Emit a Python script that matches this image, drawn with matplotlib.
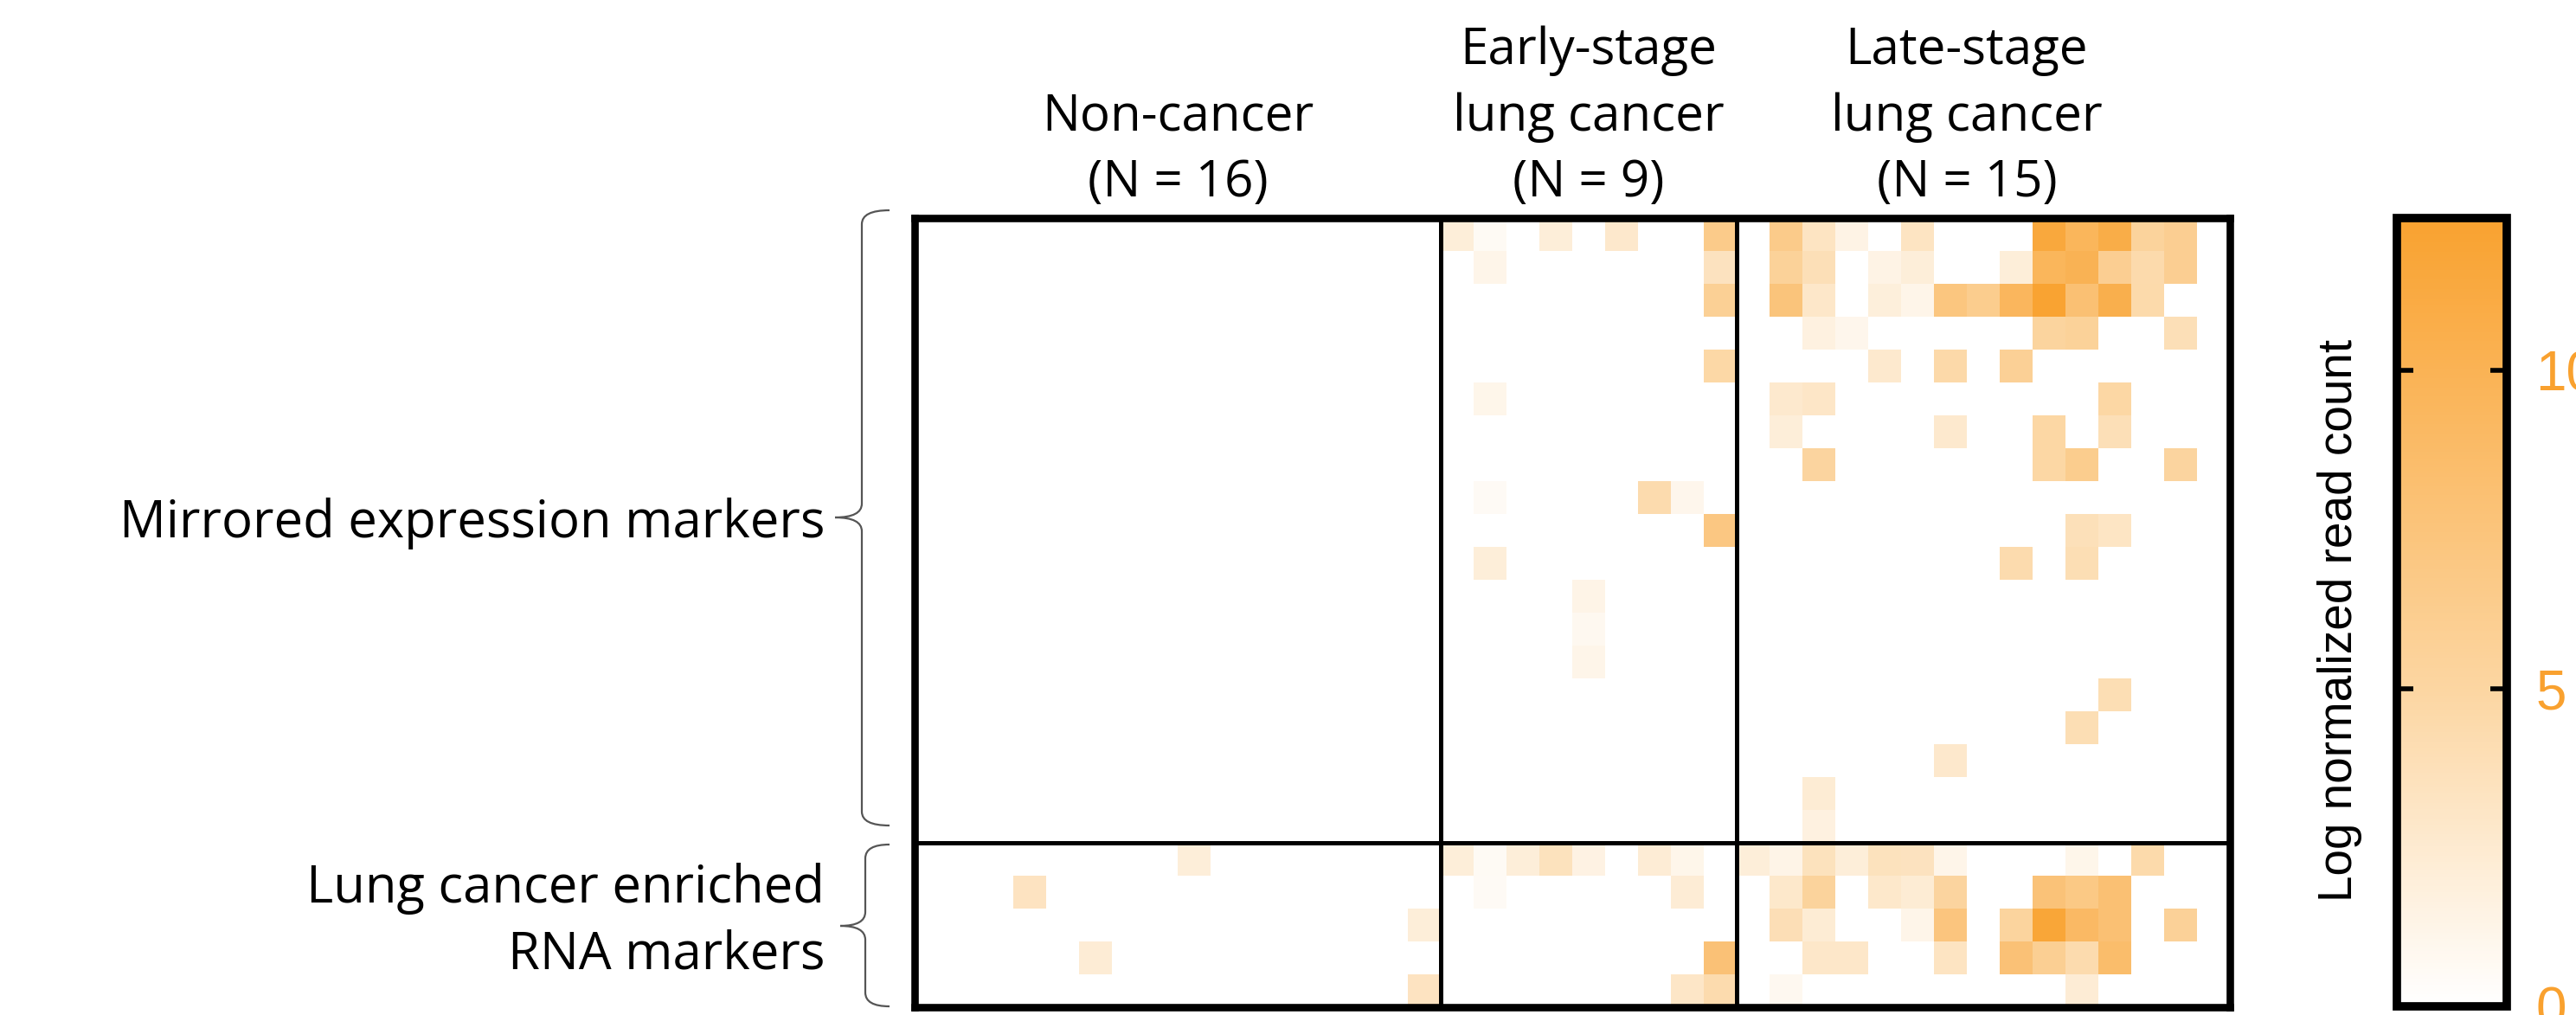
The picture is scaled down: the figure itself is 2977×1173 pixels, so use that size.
import numpy as np
import matplotlib
matplotlib.use("Agg")
import matplotlib.pyplot as plt
import matplotlib.transforms as mtransforms
from matplotlib.colors import LinearSegmentedColormap
from matplotlib.path import Path
from matplotlib.patches import PathPatch

plt.rcParams["font.family"] = ["Open Sans", "DejaVu Sans"]

# --- data -------------------------------------------------------------
group_labels = ["Non-cancer\n(N = 16)",
                "Early-stage\nlung cancer\n(N = 9)",
                "Late-stage\nlung cancer\n(N = 15)"]
group_sizes = [16, 9, 15]
marker_labels = ["Mirrored expression markers", "Lung cancer enriched\nRNA markers"]
marker_counts = [19, 5]
cbar_ticks = [0, 5, 10]
vmax = 12.4

# log normalized read counts, rows = markers (19 mirrored, then 5 lung enriched)
noncancer = [
    [0, 0, 0, 0, 0, 0, 0, 0, 0, 0, 0, 0, 0, 0, 0, 0],
    [0, 0, 0, 0, 0, 0, 0, 0, 0, 0, 0, 0, 0, 0, 0, 0],
    [0, 0, 0, 0, 0, 0, 0, 0, 0, 0, 0, 0, 0, 0, 0, 0],
    [0, 0, 0, 0, 0, 0, 0, 0, 0, 0, 0, 0, 0, 0, 0, 0],
    [0, 0, 0, 0, 0, 0, 0, 0, 0, 0, 0, 0, 0, 0, 0, 0],
    [0, 0, 0, 0, 0, 0, 0, 0, 0, 0, 0, 0, 0, 0, 0, 0],
    [0, 0, 0, 0, 0, 0, 0, 0, 0, 0, 0, 0, 0, 0, 0, 0],
    [0, 0, 0, 0, 0, 0, 0, 0, 0, 0, 0, 0, 0, 0, 0, 0],
    [0, 0, 0, 0, 0, 0, 0, 0, 0, 0, 0, 0, 0, 0, 0, 0],
    [0, 0, 0, 0, 0, 0, 0, 0, 0, 0, 0, 0, 0, 0, 0, 0],
    [0, 0, 0, 0, 0, 0, 0, 0, 0, 0, 0, 0, 0, 0, 0, 0],
    [0, 0, 0, 0, 0, 0, 0, 0, 0, 0, 0, 0, 0, 0, 0, 0],
    [0, 0, 0, 0, 0, 0, 0, 0, 0, 0, 0, 0, 0, 0, 0, 0],
    [0, 0, 0, 0, 0, 0, 0, 0, 0, 0, 0, 0, 0, 0, 0, 0],
    [0, 0, 0, 0, 0, 0, 0, 0, 0, 0, 0, 0, 0, 0, 0, 0],
    [0, 0, 0, 0, 0, 0, 0, 0, 0, 0, 0, 0, 0, 0, 0, 0],
    [0, 0, 0, 0, 0, 0, 0, 0, 0, 0, 0, 0, 0, 0, 0, 0],
    [0, 0, 0, 0, 0, 0, 0, 0, 0, 0, 0, 0, 0, 0, 0, 0],
    [0, 0, 0, 0, 0, 0, 0, 0, 0, 0, 0, 0, 0, 0, 0, 0],
    [0, 0, 0, 0, 0, 0, 0, 0, 2.0, 0, 0, 0, 0, 0, 0, 0],
    [0, 0, 0, 3.3, 0, 0, 0, 0, 0, 0, 0, 0, 0, 0, 0, 0],
    [0, 0, 0, 0, 0, 0, 0, 0, 0, 0, 0, 0, 0, 0, 0, 2.0],
    [0, 0, 0, 0, 0, 2.2, 0, 0, 0, 0, 0, 0, 0, 0, 0, 0],
    [0, 0, 0, 0, 0, 0, 0, 0, 0, 0, 0, 0, 0, 0, 0, 3.3],
]

early = [
    [2.0, 0.6, 0, 2.0, 0, 2.7, 0, 0, 6.5],
    [0, 1.2, 0, 0, 0, 0, 0, 0, 3.4],
    [0, 0, 0, 0, 0, 0, 0, 0, 5.8],
    [0, 0, 0, 0, 0, 0, 0, 0, 0],
    [0, 0, 0, 0, 0, 0, 0, 0, 4.7],
    [0, 1.1, 0, 0, 0, 0, 0, 0, 0],
    [0, 0, 0, 0, 0, 0, 0, 0, 0],
    [0, 0, 0, 0, 0, 0, 0, 0, 0],
    [0, 0.5, 0, 0, 0, 0, 4.3, 1.0, 0],
    [0, 0, 0, 0, 0, 0, 0, 0, 7.0],
    [0, 2.0, 0, 0, 0, 0, 0, 0, 0],
    [0, 0, 0, 0, 1.3, 0, 0, 0, 0],
    [0, 0, 0, 0, 0.8, 0, 0, 0, 0],
    [0, 0, 0, 0, 1.2, 0, 0, 0, 0],
    [0, 0, 0, 0, 0, 0, 0, 0, 0],
    [0, 0, 0, 0, 0, 0, 0, 0, 0],
    [0, 0, 0, 0, 0, 0, 0, 0, 0],
    [0, 0, 0, 0, 0, 0, 0, 0, 0],
    [0, 0, 0, 0, 0, 0, 0, 0, 0],
    [2.0, 0.6, 2.0, 3.5, 1.5, 0, 2.2, 1.1, 0],
    [0, 0.5, 0, 0, 0, 0, 0, 2.2, 0],
    [0, 0, 0, 0, 0, 0, 0, 0, 0],
    [0, 0, 0, 0, 0, 0, 0, 0, 7.8],
    [0, 0, 0, 0, 0, 0, 0, 3.0, 4.3],
]

late = [
    [0, 6.5, 3.2, 1.4, 0, 3.2, 0, 0, 0, 11.5, 9.5, 10.8, 5.3, 6.0, 0],
    [0, 5.5, 3.8, 0, 1.4, 2.0, 0, 0, 2.0, 9.5, 10.0, 6.0, 4.4, 6.0, 0],
    [0, 7.5, 2.9, 0, 1.9, 1.2, 7.2, 6.2, 9.4, 12.2, 8.0, 10.5, 4.5, 0, 0],
    [0, 0, 1.6, 1.0, 0, 0, 0, 0, 0, 5.2, 5.5, 0, 0, 3.8, 0],
    [0, 0, 0, 0, 2.6, 0, 4.6, 0, 5.7, 0, 0, 0, 0, 0, 0],
    [0, 2.6, 3.0, 0, 0, 0, 0, 0, 0, 0, 0, 4.8, 0, 0, 0],
    [0, 2.0, 0, 0, 0, 0, 2.6, 0, 0, 4.8, 0, 3.8, 0, 0, 0],
    [0, 0, 5.1, 0, 0, 0, 0, 0, 0, 4.8, 6.2, 0, 0, 5.1, 0],
    [0, 0, 0, 0, 0, 0, 0, 0, 0, 0, 0, 0, 0, 0, 0],
    [0, 0, 0, 0, 0, 0, 0, 0, 0, 0, 3.7, 3.1, 0, 0, 0],
    [0, 0, 0, 0, 0, 0, 0, 0, 4.3, 0, 4.0, 0, 0, 0, 0],
    [0, 0, 0, 0, 0, 0, 0, 0, 0, 0, 0, 0, 0, 0, 0],
    [0, 0, 0, 0, 0, 0, 0, 0, 0, 0, 0, 0, 0, 0, 0],
    [0, 0, 0, 0, 0, 0, 0, 0, 0, 0, 0, 0, 0, 0, 0],
    [0, 0, 0, 0, 0, 0, 0, 0, 0, 0, 0, 4.0, 0, 0, 0],
    [0, 0, 0, 0, 0, 0, 0, 0, 0, 0, 4.0, 0, 0, 0, 0],
    [0, 0, 0, 0, 0, 0, 2.7, 0, 0, 0, 0, 0, 0, 0, 0],
    [0, 0, 2.3, 0, 0, 0, 0, 0, 0, 0, 0, 0, 0, 0, 0],
    [0, 0, 1.6, 0, 0, 0, 0, 0, 0, 0, 0, 0, 0, 0, 0],
    [2.0, 1.3, 3.5, 2.0, 3.5, 3.4, 1.2, 0, 0, 0, 1.1, 0, 4.5, 0, 0],
    [0, 2.8, 5.3, 0, 2.8, 2.3, 5.1, 0, 0, 7.7, 6.8, 8.0, 0, 0, 0],
    [0, 3.9, 2.3, 0, 0, 1.2, 7.3, 0, 5.2, 11.8, 9.0, 8.0, 0, 5.6, 0],
    [0, 0, 2.9, 2.9, 0, 0, 3.2, 0, 7.8, 5.9, 4.3, 8.5, 0, 0, 0],
    [0, 0.8, 0, 0, 0, 0, 0, 0, 0, 0, 2.2, 0, 0, 0, 0],
]

# --- figure -------------------------------------------------------------
W, H, DPI = 2977, 1173, 100
fig = plt.figure(figsize=(W / DPI, H / DPI), dpi=DPI)


def px_rect(x0, y0, x1, y1):
    # pixel box (top-left origin) -> figure fraction rect
    return [x0 / W, 1 - y1 / H, (x1 - x0) / W, (y1 - y0) / H]


cmap = LinearSegmentedColormap.from_list(
    "orange", [(0, "#FFFFFF"), (0.4, "#FCD6A2"), (1, "#F9A230")])

ax = fig.add_axes(px_rect(1057, 252, 2577, 1164))
data = np.hstack([np.array(noncancer), np.array(early), np.array(late)])
im = ax.imshow(data, cmap=cmap, vmin=0, vmax=vmax, aspect="auto",
               interpolation="nearest")
ax.set_xticks([])
ax.set_yticks([])
for sp in ax.spines.values():
    sp.set_linewidth(6.2)
    sp.set_color("black")
for b in np.cumsum(group_sizes)[:-1] - 0.5:
    ax.axvline(b, color="black", lw=3.6)
ax.axhline(marker_counts[0] - 0.5, color="black", lw=3.6)

# group headers above the columns
header_shift = [0, 0, -0.5]
trans = mtransforms.blended_transform_factory(ax.transData, ax.transAxes)
starts = np.concatenate([[0], np.cumsum(group_sizes)[:-1]])
for lab, s, n, sh in zip(group_labels, starts, group_sizes, header_shift):
    ax.text(s + n / 2 - 0.5 + sh, 1 + 25 / 912, lab, transform=trans,
            ha="center", va="baseline", fontsize=42, linespacing=1.4)

# colorbar
cax = fig.add_axes(px_rect(2770, 252, 2897, 1163))
cb = fig.colorbar(im, cax=cax, ticks=cbar_ticks)
cb.outline.set_linewidth(7)
cax.yaxis.set_ticks_position("both")
cax.tick_params(axis="y", which="major", direction="in", length=14, width=4,
                left=True, right=True, labelleft=False, labelright=True,
                labelsize=46, labelcolor="#F9A12F", pad=24)
for t in cax.get_yticklabels():
    t.set_family(["Liberation Sans", "DejaVu Sans"])
fig.text(2704 / W, 1 - 717 / H, "Log normalized read count", rotation=90,
         ha="center", va="center", fontsize=39.5, family="Liberation Sans")

# overlay in pixel coordinates for row-group braces and labels
ov = fig.add_axes([0, 0, 1, 1])
ov.set_xlim(0, W)
ov.set_ylim(H, 0)
ov.axis("off")
ov.set_zorder(-1)


def brace(x_end, x_v, x_tip, y0, ymid, y1, r=16):
    verts = [(x_end, y0), (x_v, y0), (x_v, y0 + r),
             (x_v, ymid - r), (x_v, ymid), (x_tip, ymid),
             (x_v, ymid), (x_v, ymid + r),
             (x_v, y1 - r), (x_v, y1), (x_end, y1)]
    codes = [Path.MOVETO, Path.CURVE3, Path.CURVE3,
             Path.LINETO, Path.CURVE3, Path.CURVE3,
             Path.CURVE3, Path.CURVE3,
             Path.LINETO, Path.CURVE3, Path.CURVE3]
    ov.add_patch(PathPatch(Path(verts, codes), fill=False,
                           edgecolor="#555555", lw=1.6))


brace(1028, 996, 965, 243, 598, 954)
brace(1028, 1000, 971, 976, 1070, 1163)

ov.text(953, 621, marker_labels[0], ha="right", va="baseline", fontsize=43)
ov.text(953, 1120, marker_labels[1], ha="right", va="baseline", fontsize=43,
        multialignment="right", linespacing=1.38)

fig.savefig("out.png", dpi=DPI)
